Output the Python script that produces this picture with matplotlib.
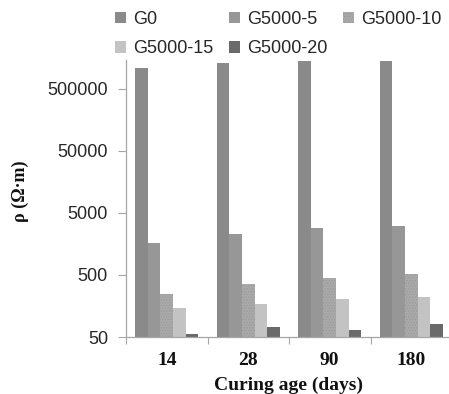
import numpy as np
import matplotlib
matplotlib.use("Agg")
import matplotlib.pyplot as plt
from matplotlib.patches import Patch

# Electrical resistivity by curing age and graphite dosage
ages = ["14", "28", "90", "180"]
series = ["G0", "G5000-5", "G5000-10", "G5000-15", "G5000-20"]
g0 = [1.10e6, 1.30e6, 1.50e6, 1.55e6]
g5000_5 = [1660, 2320, 2900, 3120]
g5000_10 = [247, 354, 442, 520]
g5000_15 = [145, 172, 203, 223]
g5000_20 = [56.5, 73, 66, 81]
values = [g0, g5000_5, g5000_10, g5000_15, g5000_20]

colors = ["#8a8a8a", "#979797", "#a9a9a9", "#c3c3c3", "#6a6a6a"]
hatches = [None, None, "......", None, None]

y_ticks = [50, 500, 5000, 50000, 500000]

plt.rcParams["hatch.linewidth"] = 0.6

fig = plt.figure(figsize=(4.49, 3.94), dpi=100)
ax = fig.add_axes([126 / 449, 1 - 337 / 394, 326 / 449, 276.5 / 394])

x = np.arange(len(ages))
n = len(series)
w = 0.155
handles = []
for i, (vals, c, h) in enumerate(zip(values, colors, hatches)):
    offs = (i - (n - 1) / 2) * w
    ec = "#9a9a9a" if h else c
    ax.bar(x + offs, vals, width=w, color=c, edgecolor=ec, linewidth=0,
           hatch=h, bottom=0)
    handles.append(Patch(facecolor=c, edgecolor=ec, linewidth=0, hatch=h,
                         label=series[i]))

ax.set_yscale("log")
ax.set_ylim(50, 1.44e6)
ax.set_xlim(-0.5, 3.5)
ax.set_yticks(y_ticks)
ax.set_yticklabels([str(v) for v in y_ticks], family="Liberation Sans",
                   fontsize=13, color="#262626")
ax.yaxis.set_minor_locator(matplotlib.ticker.NullLocator())
ax.tick_params(axis="y", length=6, width=0.8, color="#a6a6a6", pad=7)

# category boundary ticks on x, labels centred on groups
ax.set_xticks(np.arange(-0.5, 4.0, 1.0))
ax.set_xticklabels([])
ax.set_xticks(x, minor=True)
ax.set_xticklabels(ages, minor=True, family="Liberation Serif",
                   fontweight="bold", fontsize=14, color="#111111")
ax.tick_params(axis="x", which="major", length=5, width=0.8, color="#a6a6a6")
ax.tick_params(axis="x", which="minor", length=0, pad=11)

for s in ["top", "right"]:
    ax.spines[s].set_visible(False)
for s in ["left", "bottom"]:
    ax.spines[s].set_color("#a6a6a6")
    ax.spines[s].set_linewidth(0.9)

ax.set_xlabel("Curing age (days)", family="Liberation Serif",
              fontweight="bold", fontsize=14, color="#111111", labelpad=5)
fig.text(20 / 449, 1 - 191 / 394, "ρ (Ω·m)", rotation=90, ha="center",
         va="center", family="Liberation Serif", fontweight="bold",
         fontsize=13, color="#111111")

# legend laid out row by row in three columns
order = [0, 3, 1, 4, 2]
fig.legend([handles[k] for k in order], [series[k] for k in order],
           ncol=3, loc="upper left", bbox_to_anchor=(115 / 449, 1 - 11 / 394),
           frameon=False, prop={"family": "Liberation Sans", "size": 13},
           handlelength=0.62, handleheight=0.62, handletextpad=0.4,
           columnspacing=0.85, labelspacing=0.68, borderpad=0,
           borderaxespad=0, labelcolor="#262626")

fig.savefig("out.png", dpi=100)
